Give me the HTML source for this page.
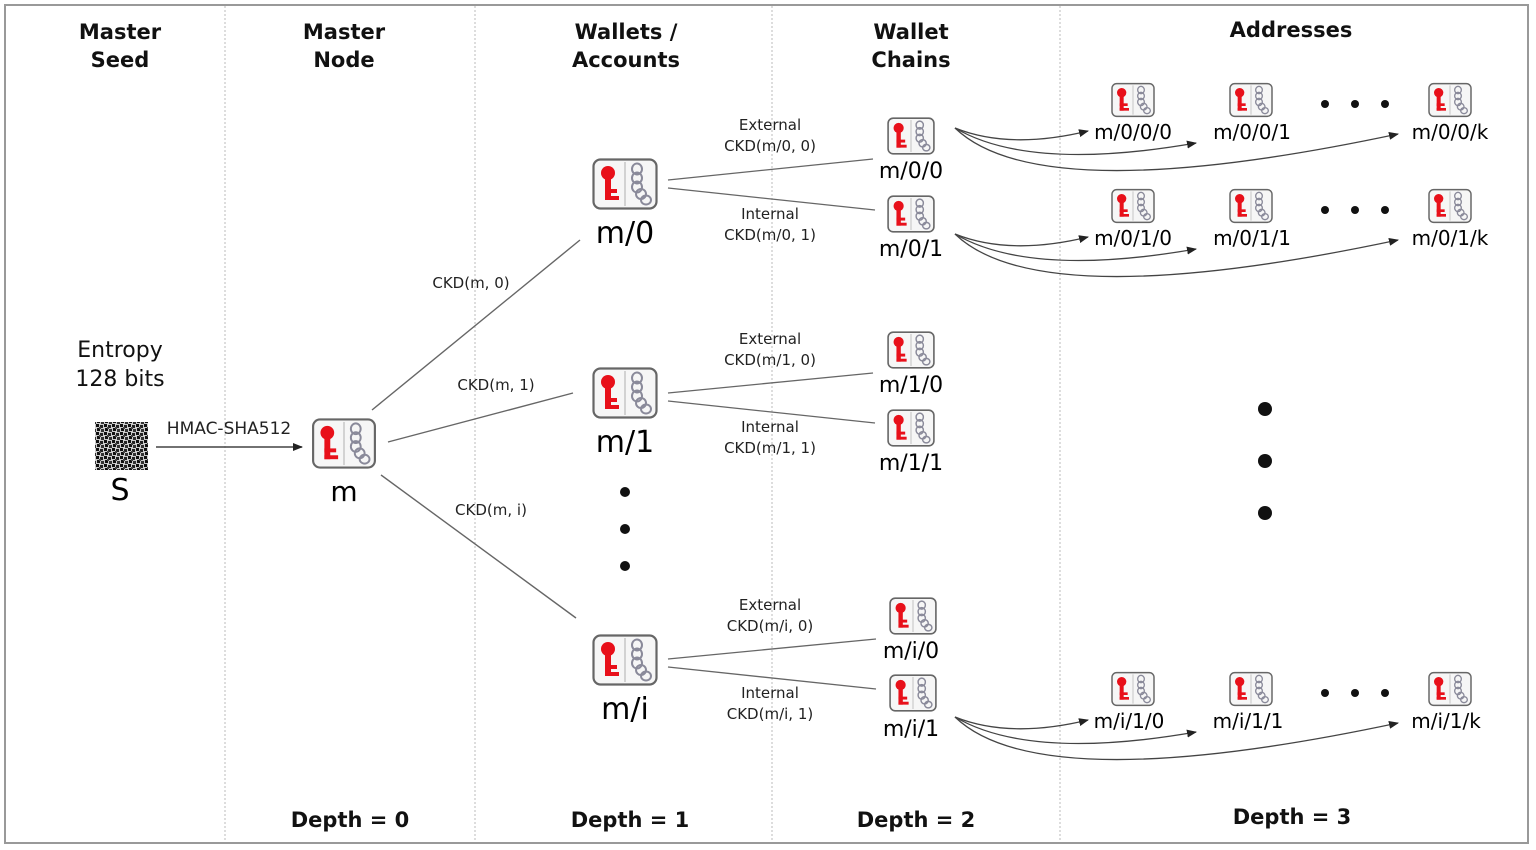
<!DOCTYPE html>
<html><head><meta charset="utf-8"><style>
html,body{margin:0;padding:0;background:#fff;}
svg{display:block;font-family:"DejaVu Sans","Liberation Sans",sans-serif;}
</style></head><body>
<svg width="1536" height="850" viewBox="0 0 1536 850" xmlns="http://www.w3.org/2000/svg">
<defs>
<symbol id="ic" viewBox="0 0 66 52">
<rect x="1.5" y="1.5" width="63" height="49" rx="7" fill="#f6f6f6" stroke="#666" stroke-width="2.2"/>
<line x1="33" y1="4" x2="33" y2="48" stroke="#bbb" stroke-width="1.2"/>
<circle cx="16" cy="15" r="7" fill="#e8101a"/>
<rect x="13" y="15" width="6" height="27" fill="#e8101a"/>
<rect x="13" y="31" width="12" height="4" fill="#e8101a"/>
<rect x="13" y="38" width="14" height="4" fill="#e8101a"/>
<g fill="none" stroke="#8a8a9a" stroke-width="2">
<ellipse cx="45" cy="11" rx="5" ry="5.5"/><ellipse cx="45" cy="20" rx="5" ry="5.5"/>
<ellipse cx="45" cy="29" rx="5" ry="5.5"/><ellipse cx="49" cy="36" rx="5" ry="5"/>
<ellipse cx="54" cy="42" rx="5" ry="4.5"/>
</g>
</symbol>
<marker id="ar" markerWidth="10" markerHeight="8" refX="9" refY="4" orient="auto" markerUnits="userSpaceOnUse">
<path d="M0,0 L10,4 L0,8 z" fill="#222"/>
</marker>
<pattern id="noise" width="8" height="8" patternUnits="userSpaceOnUse">
<rect width="8" height="8" fill="#ccc"/>
<rect x="0" y="0" width="3" height="3" fill="#111"/><rect x="4" y="1" width="3" height="3" fill="#222"/>
<rect x="1" y="4" width="3" height="3" fill="#111"/><rect x="5" y="5" width="3" height="3" fill="#333"/>
<rect x="3" y="3" width="2" height="2" fill="#444"/>
</pattern>
</defs>

<rect x="5" y="5" width="1523" height="838" fill="#fff" stroke="#999" stroke-width="2"/>
<g stroke="#bbb" stroke-width="1" stroke-dasharray="2,2">
<line x1="225" y1="6" x2="225" y2="842"/><line x1="475" y1="6" x2="475" y2="842"/>
<line x1="772" y1="6" x2="772" y2="842"/><line x1="1060" y1="6" x2="1060" y2="842"/>
</g>

<g font-weight="bold" font-size="21" text-anchor="middle" fill="#111">
<text x="120" y="39">Master</text><text x="120" y="67">Seed</text>
<text x="344" y="39">Master</text><text x="344" y="67">Node</text>
<text x="626" y="39">Wallets /</text><text x="626" y="67">Accounts</text>
<text x="911" y="39">Wallet</text><text x="911" y="67">Chains</text>
<text x="1291" y="37">Addresses</text>
<text x="350" y="827">Depth = 0</text><text x="630" y="827">Depth = 1</text>
<text x="916" y="827">Depth = 2</text><text x="1292" y="824">Depth = 3</text>
</g>

<g font-size="22" text-anchor="middle" fill="#111">
<text x="120" y="357">Entropy</text><text x="120" y="386">128 bits</text>
</g>
<rect x="95" y="422" width="53" height="48" fill="url(#noise)"/>
<text x="120" y="500" font-size="30" text-anchor="middle">S</text>
<line x1="156" y1="447" x2="302" y2="447" stroke="#444" stroke-width="1.5" marker-end="url(#ar)"/>
<text x="229" y="434" font-size="17" text-anchor="middle" fill="#222">HMAC-SHA512</text>

<use href="#ic" x="311" y="418" width="66" height="51"/>
<text x="344" y="501" font-size="28" text-anchor="middle">m</text>

<g stroke="#666" stroke-width="1.4">
<line x1="372" y1="410" x2="580" y2="240"/>
<line x1="388" y1="442" x2="573" y2="393"/>
<line x1="381" y1="475" x2="576" y2="618"/>
</g>
<g font-size="15" text-anchor="middle" fill="#222">
<text x="471" y="288">CKD(m, 0)</text>
<text x="496" y="390">CKD(m, 1)</text>
<text x="491" y="515">CKD(m, i)</text>
</g>

<use href="#ic" x="592" y="158" width="66" height="52"/>
<use href="#ic" x="592" y="367" width="66" height="52"/>
<use href="#ic" x="592" y="634" width="66" height="52"/>
<g font-size="30" text-anchor="middle">
<text x="625" y="243">m/0</text><text x="625" y="452">m/1</text><text x="625" y="719">m/i</text>
</g>
<g fill="#111"><circle cx="625" cy="492" r="5"/><circle cx="625" cy="529" r="5"/><circle cx="625" cy="566" r="5"/></g>

<g stroke="#666" stroke-width="1.3">
<line x1="668" y1="180" x2="873" y2="159"/><line x1="668" y1="188" x2="875" y2="210"/>
<line x1="668" y1="393" x2="873" y2="373"/><line x1="668" y1="401" x2="875" y2="423"/>
<line x1="668" y1="659" x2="876" y2="639"/><line x1="668" y1="667" x2="876" y2="689"/>
</g>
<g font-size="15" text-anchor="middle" fill="#222">
<text x="770" y="130">External</text><text x="770" y="151">CKD(m/0, 0)</text>
<text x="770" y="219">Internal</text><text x="770" y="240">CKD(m/0, 1)</text>
<text x="770" y="344">External</text><text x="770" y="365">CKD(m/1, 0)</text>
<text x="770" y="432">Internal</text><text x="770" y="453">CKD(m/1, 1)</text>
<text x="770" y="610">External</text><text x="770" y="631">CKD(m/i, 0)</text>
<text x="770" y="698">Internal</text><text x="770" y="719">CKD(m/i, 1)</text>
</g>

<g>
<use href="#ic" x="887" y="117" width="48" height="38"/>
<use href="#ic" x="887" y="195" width="48" height="38"/>
<use href="#ic" x="887" y="331" width="48" height="38"/>
<use href="#ic" x="887" y="409" width="48" height="38"/>
<use href="#ic" x="889" y="597" width="48" height="38"/>
<use href="#ic" x="889" y="674" width="48" height="38"/>
</g>
<g font-size="22" text-anchor="middle">
<text x="911" y="178">m/0/0</text><text x="911" y="256">m/0/1</text>
<text x="911" y="392">m/1/0</text><text x="911" y="470">m/1/1</text>
<text x="911" y="658">m/i/0</text><text x="911" y="736">m/i/1</text>
</g>

<g>
<use href="#ic" x="1111" y="82" width="44" height="36"/>
<use href="#ic" x="1229" y="82" width="44" height="36"/>
<use href="#ic" x="1428" y="82" width="44" height="36"/>
<use href="#ic" x="1111" y="188" width="44" height="36"/>
<use href="#ic" x="1229" y="188" width="44" height="36"/>
<use href="#ic" x="1428" y="188" width="44" height="36"/>
<use href="#ic" x="1111" y="671" width="44" height="36"/>
<use href="#ic" x="1229" y="671" width="44" height="36"/>
<use href="#ic" x="1428" y="671" width="44" height="36"/>
</g>
<g font-size="20" text-anchor="middle">
<text x="1133" y="139">m/0/0/0</text><text x="1252" y="139">m/0/0/1</text><text x="1450" y="139">m/0/0/k</text>
<text x="1133" y="245">m/0/1/0</text><text x="1252" y="245">m/0/1/1</text><text x="1450" y="245">m/0/1/k</text>
<text x="1129" y="728">m/i/1/0</text><text x="1248" y="728">m/i/1/1</text><text x="1446" y="728">m/i/1/k</text>
</g>
<g fill="#111">
<circle cx="1325" cy="104" r="4"/><circle cx="1355" cy="104" r="4"/><circle cx="1385" cy="104" r="4"/>
<circle cx="1325" cy="210" r="4"/><circle cx="1355" cy="210" r="4"/><circle cx="1385" cy="210" r="4"/>
<circle cx="1325" cy="693" r="4"/><circle cx="1355" cy="693" r="4"/><circle cx="1385" cy="693" r="4"/>
<circle cx="1265" cy="409" r="7"/><circle cx="1265" cy="461" r="7"/><circle cx="1265" cy="513" r="7"/>
</g>

<g fill="none" stroke="#444" stroke-width="1.3" marker-end="url(#ar)">
<path d="M955,128 Q1010,150 1088,131"/>
<path d="M955,128 Q1030,172 1196,143"/>
<path d="M955,128 Q1040,210 1398,134"/>
<path d="M955,234 Q1010,256 1088,237"/>
<path d="M955,234 Q1030,278 1196,249"/>
<path d="M955,234 Q1040,316 1398,240"/>
<path d="M955,717 Q1010,739 1088,720"/>
<path d="M955,717 Q1030,761 1196,732"/>
<path d="M955,717 Q1040,799 1398,723"/>
</g>
</svg>
</body></html>
